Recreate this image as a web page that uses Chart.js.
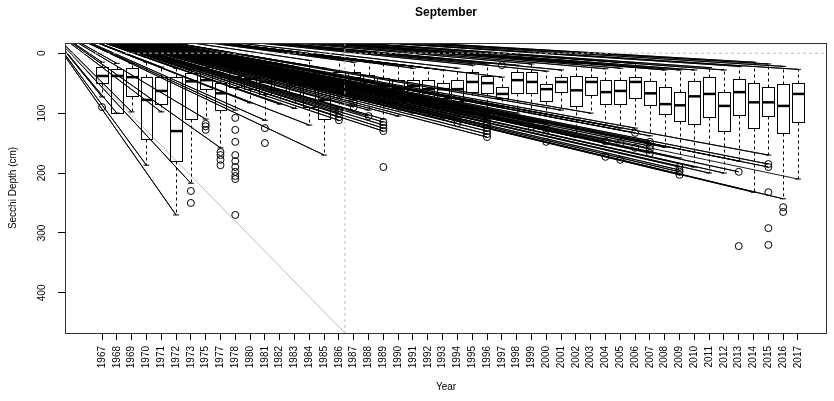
<!DOCTYPE html>
<html>
<head>
<meta charset="utf-8">
<title>September</title>
<script src="https://cdn.jsdelivr.net/npm/chart.js@4.4.1/dist/chart.umd.min.js"></script>
<style>
  body { margin: 0; background: #fff; }
  #wrap { width: 834px; height: 401px; }
</style>
</head>
<body>
<div id="wrap"><canvas id="septChart" width="834" height="401"></canvas></div>
<script>
// Secchi depth (cm) per year
const years = [1967, 1968, 1969, 1970, 1971, 1972, 1973, 1975, 1977, 1978,
  1980, 1981, 1982, 1983, 1984, 1985, 1986, 1987, 1988, 1989, 1990, 1991,
  1992, 1993, 1994, 1995, 1996, 1997, 1998, 1999, 2000, 2001, 2002, 2003,
  2004, 2005, 2006, 2007, 2008, 2009, 2010, 2011, 2012, 2013, 2014, 2015,
  2016, 2017];

const upperWhisker = [15, 17, 17, 15, 23, 25, 28, 13, 32, 15, 15, 18, 18, 22, 12, 25,
  10, 15, 15, 18, 20, 25, 25, 28, 25, 20, 18, 40, 20, 18, 30, 28, 17, 17,
  26, 25, 17, 25, 28, 28, 28, 24, 28, 22, 15, 18, 22, 27];
const q1 = [23, 27, 25, 40, 40, 40, 33, 23, 50, 23, 23, 27, 25, 45, 28, 53,
  32, 32, 37, 42, 45, 45, 45, 50, 45, 32, 38, 57, 32, 32, 52, 40, 38, 40,
  45, 45, 40, 47, 57, 65, 47, 40, 65, 43, 50, 57, 52, 50];
const median = [38, 38, 40, 78, 63, 130, 47, 45, 67, 40, 43, 48, 43, 52, 48, 78,
  45, 42, 48, 55, 60, 55, 60, 60, 60, 48, 50, 68, 45, 48, 60, 48, 62, 48,
  65, 63, 48, 67, 85, 87, 72, 68, 88, 65, 82, 82, 88, 68];
const q3 = [50, 100, 72, 143, 85, 180, 110, 60, 95, 57, 60, 68, 62, 68, 90, 110,
  60, 50, 58, 67, 82, 70, 75, 75, 80, 65, 67, 75, 67, 67, 80, 65, 88, 70,
  85, 85, 75, 87, 102, 113, 118, 107, 130, 103, 125, 105, 133, 115];
const lowerWhisker = [73, 100, 98, 187, 98, 270, 217, 110, 158, 95, 83, 112, 85, 92, 120, 170,
  90, 78, 95, 110, 105, 100, 105, 110, 100, 105, 100, 90, 100, 115, 118, 95, 140, 100,
  120, 125, 125, 138, 157, 175, 190, 200, 200, 180, 232, 170, 243, 210];

// outliers that the stray lines run to, and the ones left alone
const outliersNear = [
  [], [], [], [], [], [], [], [], [], [],
  [], [], [], [], [], [],
  [95, 100, 107, 112], [82, 90], [105], [115, 120, 125, 130],
  [], [], [], [], [107, 112, 117], [],
  [105, 110, 115, 120, 125, 130, 135, 140], [], [], [123], [125, 128],
  [], [], [], [147], [150], [133], [148, 155, 160, 167], [],
  [190, 195, 198, 203], [], [], [], [198], [], [185, 190],
  [], []
];
const outliersFar = [
  [90], [], [], [], [], [], [230, 250], [118, 122, 128], [165, 170, 178, 187],
  [108, 128, 148, 170, 180, 190, 198, 205, 210, 270],
  [], [125, 150], [], [], [], [],
  [], [], [], [190],
  [], [], [], [], [], [],
  [], [20], [], [], [148],
  [], [], [], [173], [178], [158], [], [],
  [], [], [], [], [322], [], [232, 292, 320],
  [257, 265], []
];

const yTicks = [0, 100, 200, 300, 400];

// stray lines in the original figure
const fanOrigin = { x: -3.2, y: -55 };
const greyLine = [{ x: -1.5, y: -10 }, { x: 17.4, y: 467 }];
const greyV = 17.4;
const greyH = 0;

const FONT = "'Liberation Sans', Arial, Helvetica, sans-serif";
Chart.defaults.font.family = FONT;
Chart.defaults.color = '#000';

// whisker ends and near outliers each get a line from the origin
const fanPoints = [];
const outlierPoints = [];
years.forEach((y, i) => {
  const x = i + 1;
  const ends = [upperWhisker[i], lowerWhisker[i]].concat(outliersNear[i]);
  ends.forEach(v => {
    fanPoints.push({ x: fanOrigin.x, y: fanOrigin.y });
    fanPoints.push({ x: x, y: v });
  });
  outliersNear[i].concat(outliersFar[i]).forEach(v => outlierPoints.push({ x: x, y: v }));
});

// boxes, whiskers, frame and text
const boxPlugin = {
  id: 'boxes',
  afterDatasetsDraw(chart) {
    const { ctx, chartArea: a, scales: { x: xs, y: ys } } = chart;
    ctx.save();
    ctx.beginPath();
    ctx.rect(a.left, a.top, a.right - a.left, a.bottom - a.top);
    ctx.clip();
    ctx.strokeStyle = '#000';
    years.forEach((yr, i) => {
      const c = i + 1;
      const xc = Math.round(xs.getPixelForValue(c)) + 0.5;
      const xl = Math.round(xs.getPixelForValue(c - 0.4)) + 0.5;
      const xr = Math.round(xs.getPixelForValue(c + 0.4)) + 0.5;
      const cl = xs.getPixelForValue(c - 0.2);
      const cr = xs.getPixelForValue(c + 0.2);
      const yU = ys.getPixelForValue(upperWhisker[i]);
      const y1 = Math.round(ys.getPixelForValue(q1[i])) + 0.5;
      const yM = ys.getPixelForValue(median[i]);
      const y3 = Math.round(ys.getPixelForValue(q3[i])) + 0.5;
      const yL = ys.getPixelForValue(lowerWhisker[i]);

      // whiskers
      ctx.lineWidth = 1;
      ctx.setLineDash([3, 3]);
      ctx.beginPath();
      ctx.moveTo(xc, y1); ctx.lineTo(xc, yU);
      ctx.moveTo(xc, y3); ctx.lineTo(xc, yL);
      ctx.stroke();
      ctx.setLineDash([]);
      // staples
      ctx.beginPath();
      ctx.moveTo(cl, yU); ctx.lineTo(cr, yU);
      ctx.moveTo(cl, yL); ctx.lineTo(cr, yL);
      ctx.stroke();
      // box
      ctx.strokeRect(xl, y1, xr - xl, y3 - y1);
      // median
      ctx.lineWidth = 2.5;
      ctx.beginPath();
      ctx.moveTo(xl, yM); ctx.lineTo(xr, yM);
      ctx.stroke();
    });
    ctx.restore();

    // frame
    ctx.save();
    ctx.strokeStyle = '#333';
    ctx.lineWidth = 1;
    ctx.strokeRect(a.left + 0.5, a.top + 0.5, a.right - a.left - 1, a.bottom - a.top);

    // y tick labels, rotated like R
    ctx.fillStyle = '#000';
    ctx.font = '10px ' + FONT;
    ctx.textAlign = 'center';
    ctx.textBaseline = 'middle';
    yTicks.forEach(t => {
      ctx.save();
      ctx.translate(42, ys.getPixelForValue(t));
      ctx.rotate(-Math.PI / 2);
      ctx.fillText(String(t), 0, 0);
      ctx.restore();
    });

    const midX = (a.left + a.right) / 2;
    ctx.save();
    ctx.translate(13, (a.top + a.bottom) / 2);
    ctx.rotate(-Math.PI / 2);
    ctx.fillText('Secchi Depth (cm)', 0, 0);
    ctx.restore();
    ctx.fillText('Year', midX, 387);

    ctx.font = 'bold 12px ' + FONT;
    ctx.fillText('September', midX, 13);
    ctx.restore();
  }
};

const ctx = document.getElementById('septChart').getContext('2d');
const chart = new Chart(ctx, {
  type: 'scatter',
  data: {
    datasets: [
      {
        type: 'line',
        data: [{ x: -1.5, y: greyH }, { x: 50, y: greyH }],
        borderColor: '#bdbdbd',
        borderWidth: 1,
        borderDash: [3, 3],
        pointRadius: 0
      },
      {
        type: 'line',
        data: [{ x: greyV, y: -17 }, { x: greyV, y: 467 }],
        borderColor: '#bdbdbd',
        borderWidth: 1,
        borderDash: [3, 3],
        pointRadius: 0
      },
      {
        type: 'line',
        data: greyLine,
        borderColor: '#bdbdbd',
        borderWidth: 1,
        pointRadius: 0
      },
      {
        type: 'line',
        data: fanPoints,
        borderColor: '#000',
        borderWidth: 0.9,
        pointRadius: 0
      },
      {
        data: outlierPoints,
        pointStyle: 'circle',
        pointRadius: 3.5,
        borderWidth: 1,
        borderColor: '#000',
        backgroundColor: 'rgba(0,0,0,0)'
      }
    ]
  },
  options: {
    responsive: false,
    animation: false,
    devicePixelRatio: 1,
    events: [],
    layout: { padding: { top: 43, right: 7, left: 0, bottom: 0 } },
    plugins: {
      legend: { display: false },
      tooltip: { enabled: false },
      title: { display: false }
    },
    scales: {
      x: {
        type: 'linear',
        min: -1.5,
        max: 49.96,
        bounds: 'data',
        border: { display: false },
        grid: { drawOnChartArea: false, tickLength: 7, color: '#000', lineWidth: 1 },
        afterBuildTicks: axis => { axis.ticks = years.map((y, i) => ({ value: i + 1 })); },
        afterFit: axis => { axis.height = 68; },
        ticks: {
          autoSkip: false,
          minRotation: 90,
          maxRotation: 90,
          padding: 6,
          font: { size: 10 },
          color: '#000',
          callback: v => years[v - 1]
        }
      },
      y: {
        type: 'linear',
        reverse: true,
        min: -17,
        max: 467,
        bounds: 'data',
        border: { display: false },
        grid: { drawOnChartArea: false, tickLength: 7, color: '#000', lineWidth: 1 },
        afterBuildTicks: axis => { axis.ticks = yTicks.map(v => ({ value: v })); },
        afterFit: axis => { axis.width = 65; },
        ticks: { display: false }
      }
    }
  },
  plugins: [boxPlugin]
});
</script>
</body>
</html>
